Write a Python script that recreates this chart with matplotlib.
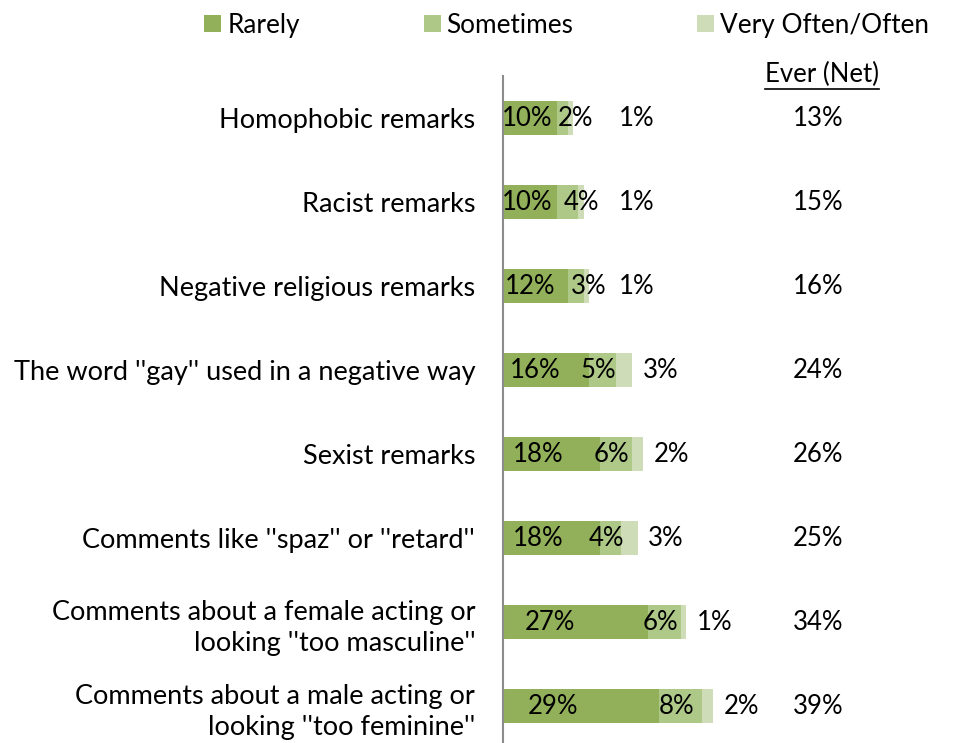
import matplotlib
matplotlib.use("Agg")
import matplotlib.pyplot as plt
from matplotlib.patches import Patch

plt.rcParams['font.family'] = ['Lato', 'DejaVu Sans']

categories = [
    "Homophobic remarks",
    "Racist remarks",
    "Negative religious remarks",
    "The word ''gay'' used in a negative way",
    "Sexist remarks",
    "Comments like ''spaz'' or ''retard''",
    "Comments about a female acting or\nlooking ''too masculine''",
    "Comments about a male acting or\nlooking ''too feminine''",
]
rarely = [10, 10, 12, 16, 18, 18, 27, 29]
sometimes = [2, 4, 3, 5, 6, 4, 6, 8]
very_often = [1, 1, 1, 3, 2, 3, 1, 2]
ever_net = [13, 15, 16, 24, 26, 25, 34, 39]
series_names = ["Rarely", "Sometimes", "Very Often/Often"]
net_header = "Ever (Net)"

colors = ["#92B05A", "#AEC888", "#CEDDB8"]

W, H = 959, 743
fig = plt.figure(figsize=(W / 100, H / 100), dpi=100)
ax = fig.add_axes([503 / W, 0, 1 - 503 / W, (H - 76) / H])

y = list(range(len(categories)))
bh = 0.405
left2 = [r for r in rarely]
left3 = [r + s for r, s in zip(rarely, sometimes)]
ax.barh(y, rarely, height=bh, color=colors[0], label=series_names[0])
ax.barh(y, sometimes, left=left2, height=bh, color=colors[1], label=series_names[1])
ax.barh(y, very_often, left=left3, height=bh, color=colors[2], label=series_names[2])

ax.set_xlim(0, 456 / 5.38)
ax.set_ylim(7.44, -0.5)

fs = 18.5
fs_cat = 19.5
for i in y:
    r, s, v = rarely[i], sometimes[i], very_often[i]
    tot = r + s + v
    ax.text(2 + r / 4, i, f"{r}%", ha='center', va='center', fontsize=fs, color='black')
    sx = r + s / 2 + (2.5 if r < 15 else -0.8)
    ax.text(sx, i, f"{s}%", ha='center', va='center', fontsize=fs, color='black')
    vx = max(tot + 2, 21.5)
    ax.text(vx, i, f"{v}%", ha='left', va='center', fontsize=fs, color='black')
    ax.text(58.5, i, f"{ever_net[i]}%", ha='center', va='center', fontsize=fs, color='black')

hdr = ax.text(59.3, -0.52, net_header, ha='center', va='center', fontsize=fs, color='black')

ax.set_yticks(y)
ax.set_yticklabels(categories, fontsize=fs_cat, ha='right', multialignment='right',
                   linespacing=1.3)
ax.tick_params(axis='y', length=0, pad=20)
ax.set_xticks([])
for sp in ['top', 'right', 'bottom']:
    ax.spines[sp].set_visible(False)
ax.spines['left'].set_color('#8c8c8c')
ax.spines['left'].set_linewidth(1.5)

handles = [Patch(facecolor=c, edgecolor='none') for c in colors]
fig.legend(handles, series_names, loc='upper left', bbox_to_anchor=(194 / W, 0.997),
           ncol=3, frameon=False, fontsize=18.8, handlelength=0.65, handleheight=0.65,
           handletextpad=0.22, columnspacing=4.75, borderaxespad=0)

# underline header
fig.canvas.draw()
bb = hdr.get_window_extent(fig.canvas.get_renderer())
inv = fig.transFigure.inverted()
(x0, y0), (x1, y1) = inv.transform([(bb.x0, bb.y0 - 2), (bb.x1, bb.y0 - 2)])
fig.add_artist(plt.Line2D([x0, x1], [y0, y1], color='black', lw=1.2, transform=fig.transFigure))

fig.savefig("out.png", dpi=100)
